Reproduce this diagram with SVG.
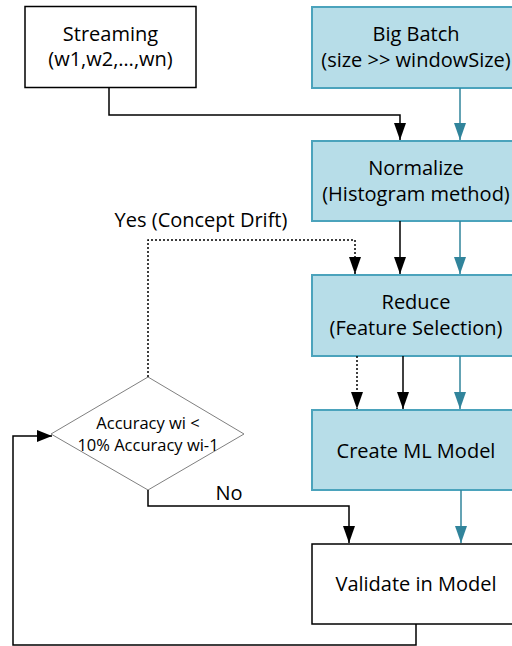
<svg xmlns="http://www.w3.org/2000/svg" width="512" height="646" viewBox="0 0 512 646">
<style>
.box{fill:#ffffff;stroke:#000000;stroke-width:1.5}
.blue{fill:#B7DDE8;stroke:#4BA3BC;stroke-width:2}
.dia{fill:#ffffff;stroke:#808080;stroke-width:1}
text{font-family:"Open Sans","DejaVu Sans",sans-serif;font-size:20px;fill:#000000;text-anchor:middle}
.small{font-size:16.5px}
.blk{fill:none;stroke:#000000;stroke-width:1.5}
.dot{fill:none;stroke:#000000;stroke-width:1.5;stroke-dasharray:2 2}
.teal{fill:none;stroke:#31849B;stroke-width:1.5}
</style>
<defs>
<marker id="ab" viewBox="0 0 17 12" refX="17" refY="6" markerWidth="17" markerHeight="12" markerUnits="userSpaceOnUse" orient="auto">
<path d="M0,0 L17,6 L0,12 Z" fill="#000000"/>
</marker>
<marker id="at" viewBox="0 0 17 12" refX="17" refY="6" markerWidth="17" markerHeight="12" markerUnits="userSpaceOnUse" orient="auto">
<path d="M0,0 L17,6 L0,12 Z" fill="#31849B"/>
</marker>
<marker id="ar" viewBox="0 0 15 12" refX="15" refY="6" markerWidth="15" markerHeight="12" markerUnits="userSpaceOnUse" orient="auto">
<path d="M0,0 L15,6 L0,12 Z" fill="#000000"/>
</marker>
</defs>
<g id="streaming">
<rect class="box" x="25" y="6.5" width="171" height="81"/>
<text x="110.5" y="41">Streaming</text>
<text x="110.5" y="66">(w1,w2,…,wn)</text>
</g>
<g id="bigbatch">
<rect class="blue" x="312" y="7" width="210" height="81"/>
<text x="416" y="41">Big Batch</text>
<text x="416" y="67">(size &gt;&gt; windowSize)</text>
</g>
<g id="normalize">
<rect class="blue" x="312" y="141" width="210" height="80"/>
<text x="416" y="175">Normalize</text>
<text x="416" y="201">(Histogram method)</text>
</g>
<g id="reduce">
<rect class="blue" x="312" y="275" width="210" height="81"/>
<text x="416" y="309">Reduce</text>
<text x="416" y="335">(Feature Selection)</text>
</g>
<g id="createml">
<rect class="blue" x="312" y="410" width="210" height="80"/>
<text x="416" y="458">Create ML Model</text>
</g>
<g id="validate">
<rect class="box" x="312" y="544" width="210" height="80"/>
<text x="416" y="591">Validate in Model</text>
</g>
<g id="decision">
<polygon class="dia" points="148,377 244,434 148,490 51,434"/>
<text class="small" x="148" y="429">Accuracy wi &lt;</text>
<text class="small" x="148" y="451">10% Accuracy wi-1</text>
</g>
<g id="connectors">
<polyline class="blk" points="109,87 109,115 400,115 400,140" marker-end="url(#ab)"/>
<line class="teal" x1="460" y1="88" x2="460" y2="140" marker-end="url(#at)"/>
<line class="blk" x1="400" y1="221" x2="400" y2="274" marker-end="url(#ab)"/>
<line class="teal" x1="460" y1="221" x2="460" y2="274" marker-end="url(#at)"/>
<polyline class="dot" points="148,377 148,240 355,240 355,274" marker-end="url(#ab)"/>
<line class="dot" x1="357" y1="356" x2="357" y2="409" marker-end="url(#ab)"/>
<line class="blk" x1="403" y1="356" x2="403" y2="409" marker-end="url(#ab)"/>
<line class="teal" x1="460" y1="356" x2="460" y2="409" marker-end="url(#at)"/>
<polyline class="blk" points="148,490 148,506 349,506 349,543" marker-end="url(#ab)"/>
<line class="teal" x1="461" y1="490" x2="461" y2="543" marker-end="url(#at)"/>
<polyline class="blk" points="416,624 416,645 13,645 13,436 52,436" marker-end="url(#ar)"/>
<text x="201" y="227">Yes (Concept Drift)</text>
<text x="229" y="500">No</text>
</g>
</svg>
